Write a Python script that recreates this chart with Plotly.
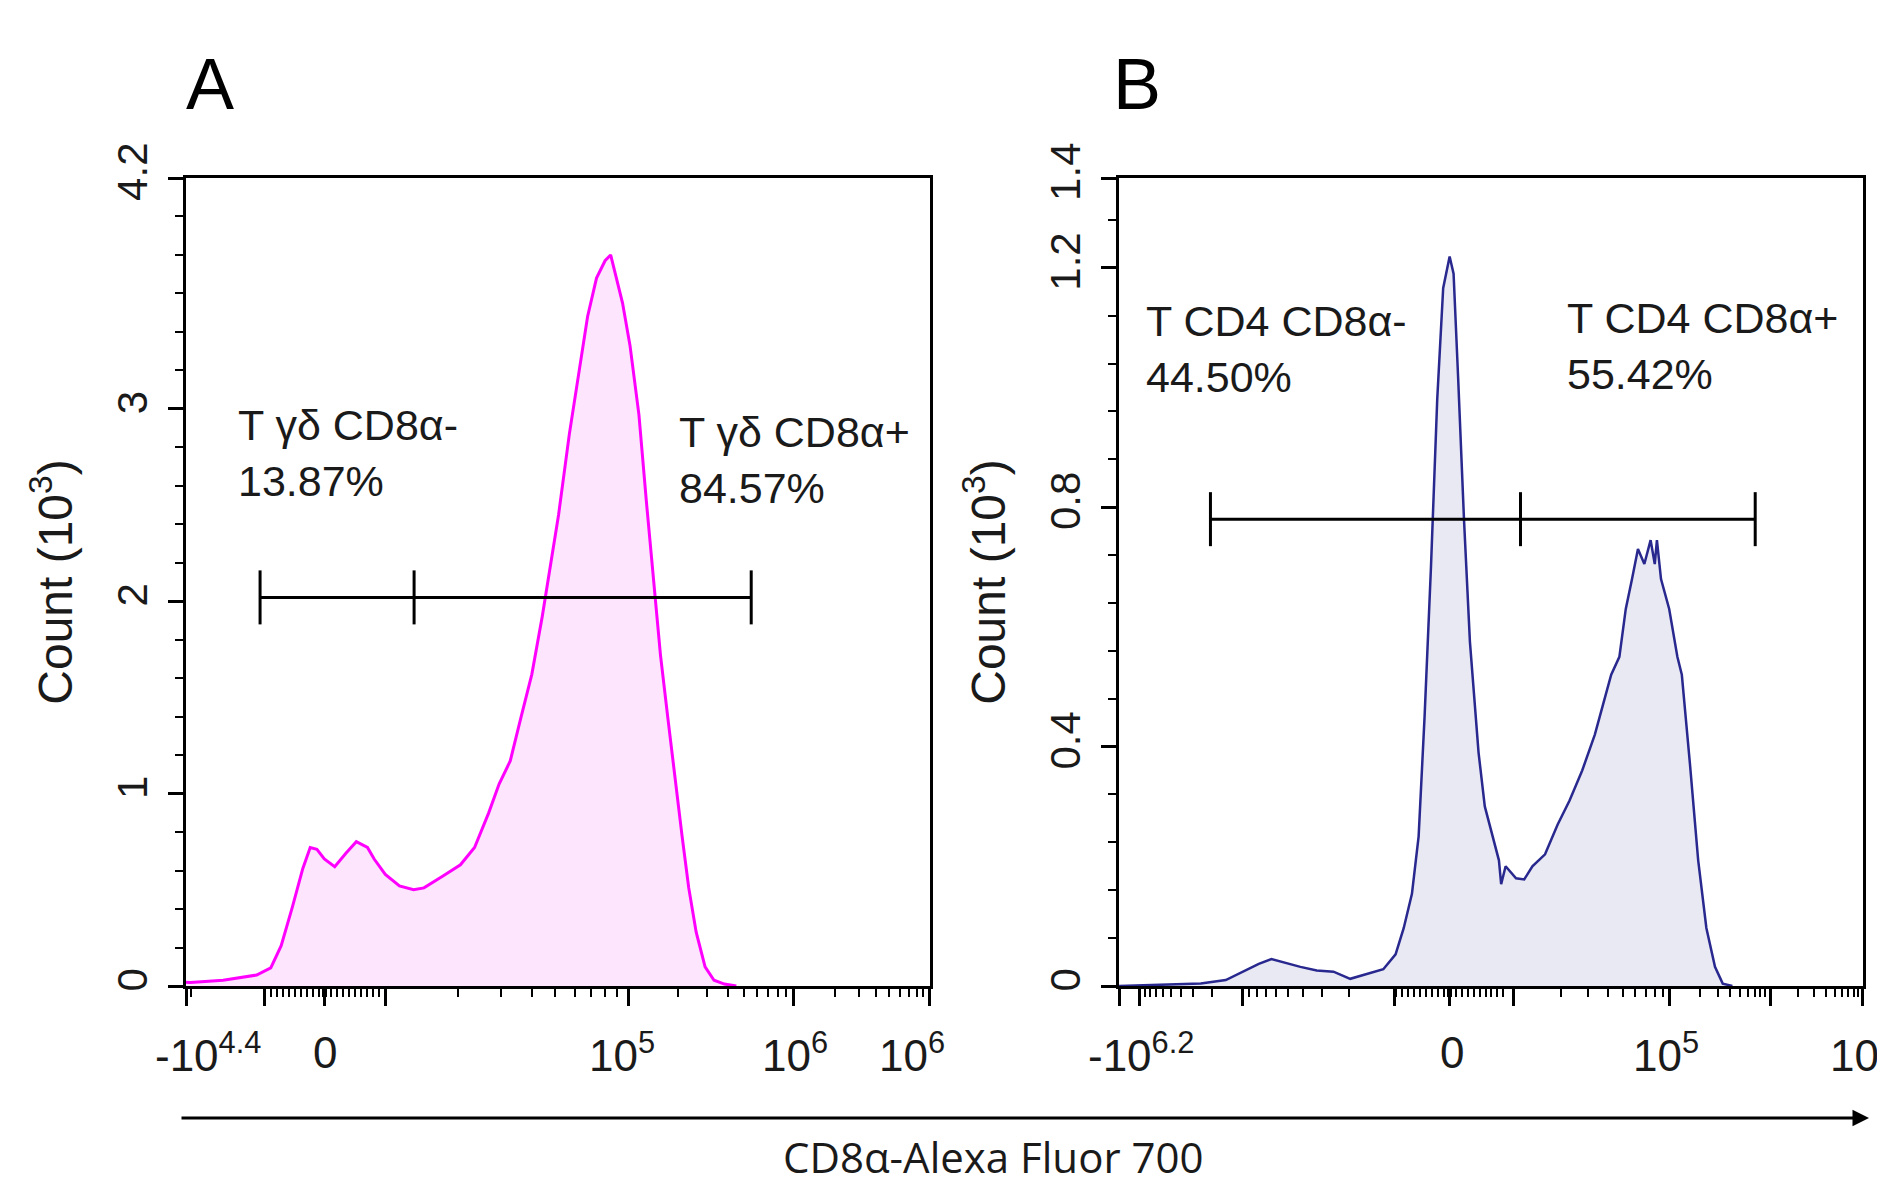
import math
import plotly.graph_objects as go

# ---------------- data (display channel 0-1000 on a biexponential scale, count in 10^3) --------------
a_channel = [0, 6, 50, 95, 114, 128, 143, 157, 167, 176, 186, 200, 215, 229, 244, 253, 268, 287, 306,
             320, 345, 369, 388, 407, 421, 436, 450, 465, 479, 489, 501, 515.5, 528, 540, 552, 563.5,
             571, 580, 587, 597, 609, 619, 628.5, 638, 648, 657, 667, 676, 686, 698, 710, 724, 740]
a_count = [0.02, 0.018, 0.03, 0.057, 0.094, 0.21, 0.41, 0.61, 0.72, 0.71, 0.66, 0.62, 0.69, 0.75, 0.72,
           0.66, 0.58, 0.52, 0.50, 0.51, 0.57, 0.63, 0.72, 0.90, 1.05, 1.17, 1.39, 1.62, 1.92, 2.17, 2.45,
           2.87, 3.18, 3.48, 3.68, 3.77, 3.80, 3.65, 3.55, 3.33, 2.97, 2.52, 2.12, 1.72, 1.39, 1.09, 0.78,
           0.51, 0.28, 0.10, 0.03, 0.01, 0.0]

b_channel = [0, 110, 143.6, 166, 188, 205, 221.6, 244, 266, 288.5, 311, 333, 355.5, 372, 383, 394, 403,
             411, 419.6, 428, 436, 444.7, 450, 456, 464, 472, 483.6, 492, 500, 511, 514, 520, 534, 545,
             556, 573, 590, 606, 623, 640, 651, 662, 673, 681.6, 690, 698, 706.6, 715, 720.6, 723.5, 729,
             740, 751, 757, 768, 779, 790, 801.6, 812, 825]
b_count = [0.0, 0.004, 0.01, 0.024, 0.037, 0.045, 0.039, 0.032, 0.026, 0.024, 0.012, 0.02, 0.028, 0.053,
           0.097, 0.154, 0.25, 0.45, 0.70, 0.98, 1.166, 1.219, 1.19, 1.02, 0.78, 0.575, 0.39, 0.30, 0.26,
           0.21, 0.17, 0.20, 0.18, 0.178, 0.20, 0.22, 0.27, 0.31, 0.36, 0.42, 0.47, 0.52, 0.55, 0.63, 0.68,
           0.73, 0.705, 0.745, 0.705, 0.745, 0.68, 0.63, 0.55, 0.52, 0.37, 0.21, 0.097, 0.032, 0.004, 0.0]

# gates: [left, split, right] channel and level (10^3)
a_gate_x = [99.6, 306.7, 760]
a_gate_level = 2.02
b_gate_x = [123, 540, 855.7]
b_gate_level = 0.78

# gate labels
a_gate_labels = ["T γδ CD8α-<br>13.87%", "T γδ CD8α+<br>84.57%"]
a_gate_label_x = [67, 660]
a_gate_label_y = [2.772, 2.734]
b_gate_labels = ["T CD4 CD8α-<br>44.50%", "T CD4 CD8α+<br>55.42%"]
b_gate_label_x = [34, 600]
b_gate_label_y = [1.064, 1.070]

# y ticks
a_ytickvals = [0, 1, 2, 3, 4.2]
a_yticktext = ["0", "1", "2", "3", "4.2"]
a_yrange = [0, 4.2]
b_ytickvals = [0, 0.4, 0.8, 1.2, 1.35]
b_yticktext = ["0", "0.4", "0.8", "1.2", "1.4"]
b_yrange = [0, 1.35]

# x axis: major tick channels and labels
a_xmajor = [0, 105.7, 186.8, 267.7, 595, 817, 1000]
a_xlabel_text = ["-10<sup>4.4</sup>", "0", "10<sup>5</sup>", "10<sup>6</sup>", "10<sup>6</sup>"]
a_xlabel_pos = [29, 186.8, 586, 819, 976]
b_xmajor = [0, 28, 166, 371, 445, 531, 741, 875.6, 1000]
b_xlabel_text = ["-10<sup>6.2</sup>", "0", "10<sup>5</sup>", "10<sup>7</sup>"]
b_xlabel_pos = [29, 448, 736, 1000]

# decade segments (start, end) for minor log ticks; negative ones run toward more negative
a_pos_decades = [(267.7, 595), (595, 817), (817, 1000)]
a_neg_decades = [(105.7, 105.7 - 327)]
a_linear = (186.8, 81)
b_pos_decades = [(531, 741), (741, 875.6), (875.6, 1000)]
b_neg_decades = [(371, 166), (166, 28)]
b_linear = (445, 80)

FONT = "Liberation Sans, Arial, sans-serif"

# page body has an 8px margin: figure is placed at (8, 8) of the window
OFF = 8
W, H = 1885 - OFF, 1180 - OFF


def px(x):
    return (x - OFF) / W


def py(y):
    return (H - (y - OFF)) / H


def minor_ticks(pos_dec, neg_dec, linear):
    vals = []
    for a, b in pos_dec + neg_dec:
        for k in range(2, 10):
            v = a + math.log10(k) * (b - a)
            if 0 < v < 1000:
                vals.append(round(v, 2))
    c, half = linear
    for k in range(1, 10):
        vals.append(round(c - half * k / 10, 2))
        vals.append(round(c + half * k / 10, 2))
    vals += [c - 2, c + 2]
    return sorted(vals)


def y_minor(rng, step, majors):
    vals = []
    v = step
    while v < rng[1] - 1e-6:
        if all(abs(v - m) > 1e-6 for m in majors):
            vals.append(round(v, 4))
        v += step
    return vals


a_dom_x = [px(186), px(929.7)]
b_dom_x = [px(1119), px(1862.5)]
dom_y = [py(986), py(178)]

fig = go.Figure()
fig.add_trace(go.Scatter(x=a_channel, y=a_count, xaxis="x", yaxis="y", mode="lines",
                         line=dict(color="#FF00FF", width=3), fill="tozeroy",
                         fillcolor="rgba(245,0,245,0.10)", showlegend=False, hoverinfo="skip"))
fig.add_trace(go.Scatter(x=b_channel, y=b_count, xaxis="x2", yaxis="y2", mode="lines",
                         line=dict(color="#28288F", width=2.5), fill="tozeroy",
                         fillcolor="rgba(40,40,143,0.10)", showlegend=False, hoverinfo="skip"))

# gate horizontal bars
fig.add_trace(go.Scatter(x=[a_gate_x[0], a_gate_x[-1]], y=[a_gate_level] * 2, xaxis="x", yaxis="y",
                         mode="lines", line=dict(color="black", width=3), showlegend=False, hoverinfo="skip"))
fig.add_trace(go.Scatter(x=[b_gate_x[0], b_gate_x[-1]], y=[b_gate_level] * 2, xaxis="x2", yaxis="y2",
                         mode="lines", line=dict(color="black", width=3), showlegend=False, hoverinfo="skip"))

shapes = []
for gx in a_gate_x:
    shapes.append(dict(type="line", xref="x", yref="y", x0=gx, x1=gx, ysizemode="pixel",
                       yanchor=a_gate_level, y0=-27, y1=27, line=dict(color="black", width=3)))
for gx in b_gate_x:
    shapes.append(dict(type="line", xref="x2", yref="y2", x0=gx, x1=gx, ysizemode="pixel",
                       yanchor=b_gate_level, y0=-27, y1=27, line=dict(color="black", width=3)))

annotations = []
lab_font = dict(family=FONT, size=43, color="#1a1a1a")
for t, x, y in zip(a_gate_labels, a_gate_label_x, a_gate_label_y):
    annotations.append(dict(text=t, x=x, y=y, xref="x", yref="y", xanchor="left", yanchor="middle",
                            align="left", showarrow=False, font=lab_font))
for t, x, y in zip(b_gate_labels, b_gate_label_x, b_gate_label_y):
    annotations.append(dict(text=t, x=x, y=y, xref="x2", yref="y2", xanchor="left", yanchor="middle",
                            align="left", showarrow=False, font=lab_font))

tick_font = dict(family=FONT, size=42, color="#1a1a1a")
xtick_font = dict(family=FONT, size=44, color="#1a1a1a")
xlab_y = py(1052)
for t, x in zip(a_xlabel_text, a_xlabel_pos):
    annotations.append(dict(text=t, x=x, y=xlab_y, xref="x", yref="paper", xanchor="center",
                            yanchor="middle", showarrow=False, font=xtick_font))
for t, x in zip(b_xlabel_text, b_xlabel_pos):
    annotations.append(dict(text=t, x=x, y=xlab_y, xref="x2", yref="paper", xanchor="center",
                            yanchor="middle", showarrow=False, font=xtick_font))

# panel letters
for letter, lx in (("A", 210), ("B", 1137)):
    annotations.append(dict(text=letter, x=px(lx), y=py(84), xref="paper", yref="paper",
                            xanchor="center", yanchor="middle", showarrow=False,
                            font=dict(family=FONT, size=72, color="black")))

# common x arrow and title
annotations.append(dict(x=px(1869), y=py(1118), xref="paper", yref="paper", ax=-(1869 - 180), ay=0,
                        axref="pixel", ayref="pixel", showarrow=True, arrowhead=2, arrowsize=1.1,
                        arrowwidth=3, arrowcolor="black", text=""))
annotations.append(dict(text="CD8α-Alexa Fluor 700", x=px(993), y=py(1156), xref="paper",
                        yref="paper", xanchor="center", yanchor="middle", showarrow=False,
                        font=dict(family="Open Sans, sans-serif", size=42, color="#1a1a1a")))


def xaxis_cfg(dom, majors, minors, anchor):
    return dict(domain=dom, range=[0, 1000], anchor=anchor, showline=True, mirror=True,
                linecolor="black", linewidth=2.5, ticks="outside", tickmode="array", tickvals=majors,
                ticklen=17, tickwidth=2.5, tickcolor="black", showticklabels=False, showgrid=False,
                zeroline=False, automargin=False, fixedrange=True,
                minor=dict(tickmode="array", tickvals=minors, ticks="outside", ticklen=8, tickwidth=1.5,
                           tickcolor="black", showgrid=False))


def yaxis_cfg(dom, rng, vals, text, minors, anchor):
    return dict(domain=dom, range=rng, anchor=anchor, showline=True, mirror=True, linecolor="black",
                linewidth=2.5, ticks="outside", tickmode="array", tickvals=vals, ticktext=text,
                ticklen=15, tickwidth=2.5, tickcolor="black", tickangle=-90, tickfont=tick_font,
                ticklabelstandoff=4, showgrid=False, zeroline=False, automargin=False, fixedrange=True,
                title=dict(text="Count (10<sup>3</sup>)", font=dict(family=FONT, size=48, color="#1a1a1a"),
                           standoff=22),
                minor=dict(tickmode="array", tickvals=minors, ticks="outside", ticklen=8, tickwidth=1.5,
                           tickcolor="black", showgrid=False))


fig.update_layout(
    width=W, height=H, margin=dict(l=0, r=0, t=0, b=0), paper_bgcolor="white", plot_bgcolor="white",
    showlegend=False,
    xaxis=xaxis_cfg(a_dom_x, a_xmajor, minor_ticks(a_pos_decades, a_neg_decades, a_linear), "y"),
    xaxis2=xaxis_cfg(b_dom_x, b_xmajor, minor_ticks(b_pos_decades, b_neg_decades, b_linear), "y2"),
    yaxis=yaxis_cfg(dom_y, a_yrange, a_ytickvals, a_yticktext, y_minor(a_yrange, 0.2, a_ytickvals), "x"),
    yaxis2=yaxis_cfg(dom_y, b_yrange, b_ytickvals, b_yticktext, y_minor(b_yrange, 0.08, b_ytickvals), "x2"),
    shapes=shapes, annotations=annotations,
)

fig.write_html("out.html")
